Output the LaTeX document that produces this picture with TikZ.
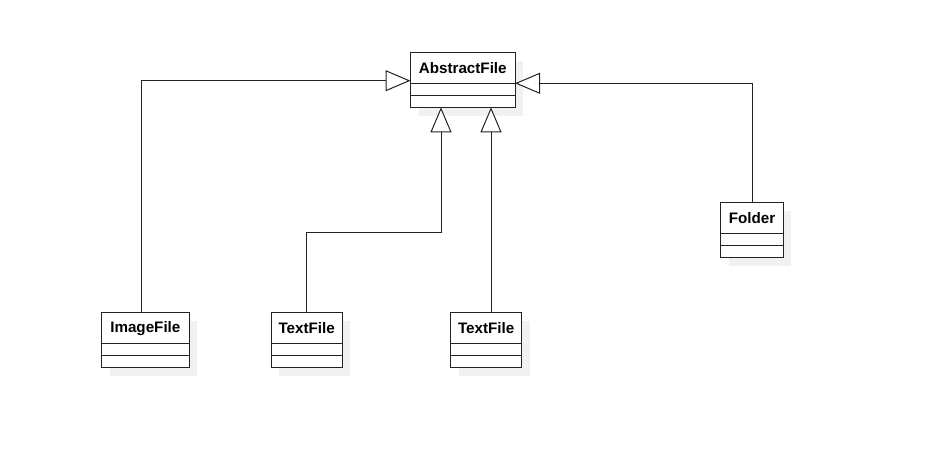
\documentclass[tikz,border=0pt]{standalone}
\usepackage{fontspec}
\setmainfont{Liberation Sans}
\usetikzlibrary{arrows.meta}
\definecolor{shadowcol}{HTML}{F1F1F1}
\definecolor{linecol}{HTML}{222222}
\tikzset{
  px/.style={x=0.75pt,y=-0.75pt},
  boxline/.style={draw=linecol,line width=0.75pt,fill=white,inner sep=0pt,outer sep=0pt},
  headbox/.style={boxline,minimum height=23.25pt,anchor=north west,font=\bfseries\fontsize{11.4}{13}\selectfont},
  compbox/.style={boxline,minimum height=9pt,anchor=north west},
  gen/.style={draw=linecol,line width=0.75pt,-{Triangle[open,length=18.75pt,width=15.75pt,fill=white]}},
}
% name, left, top, width(px), label
\newcommand\umlclass[5]{%
  \fill[shadowcol] (#2+8,#3+8) rectangle (#2+#4+8,#3+55.6+8);
  \node[headbox,minimum width=#4*0.75pt] (#1-h) at (#2,#3) {#5};
  \node[compbox,minimum width=#4*0.75pt] (#1-m) at (#1-h.south west) {};
  \node[compbox,minimum width=#4*0.75pt,minimum height=8.7pt] (#1) at (#1-m.south west) {};
}
\begin{document}
\begin{tikzpicture}[px]
\useasboundingbox (0,0) rectangle (927,452);
\umlclass{af}{410.5}{52.7}{104.5}{AbstractFile}
\umlclass{img}{101.7}{312.7}{87.3}{ImageFile}
\umlclass{tfa}{271}{312.7}{71.3}{TextFile}
\umlclass{tfb}{450.7}{312.7}{71}{TextFile}
\umlclass{fold}{720.7}{202.7}{62.6}{Folder}
\coordinate (b1) at (141,80.7);
\coordinate (b2) at (441,232.7);
\coordinate (b3) at (491,200);
\coordinate (b4) at (752,83.3);
\draw[gen] (img-h.north -| b1) -- (b1) -- (af-h.west |- b1);
\draw[gen] (tfa-h.north) |- (b2) -- (af.south -| b2);
\draw[gen] (tfb-h.north -| b3) -- (af.south -| b3);
\draw[gen] (fold-h.north) |- (af-h.east |- b4);
\end{tikzpicture}
\end{document}
